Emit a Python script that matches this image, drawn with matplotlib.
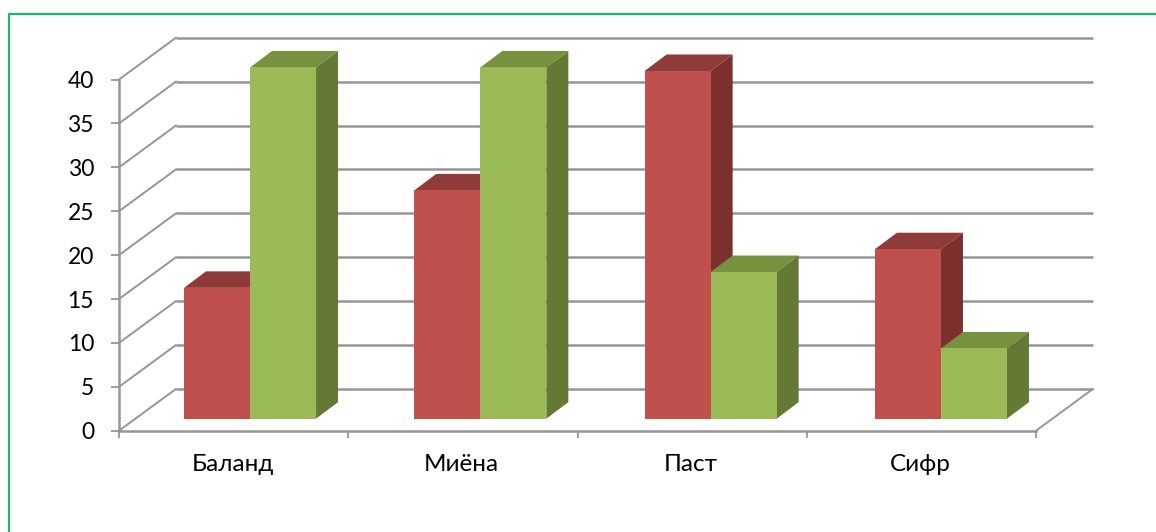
import matplotlib
matplotlib.use('Agg')
import matplotlib.pyplot as plt
from matplotlib.lines import Line2D

categories = ['Баланд', 'Миёна', 'Паст', 'Сифр']
red_values = [14.9, 26, 39.6, 19.3]
green_values = [40, 40, 16.7, 8]
y_ticks = [0, 5, 10, 15, 20, 25, 30, 35, 40]

W, H = 1156, 532
GRAY = '#969696'

# colours: front, top, side
RED = ('#C0504D', '#8F3B39', '#7C302E')
GREEN = ('#9BBB59', '#76923F', '#657936')

# fake 3d depth, in data units
WALL_DX, WALL_DY = 0.248, 4.75
BAR_DX, BAR_DY = 0.096, 1.88
BAR_W = 0.288
BAR_START = 0.2835
BAR_STEP = 1.0046
BAR_BASE = 1.37

plt.rcParams['font.family'] = ['Lato', 'DejaVu Sans']

fig = plt.figure(figsize=(W / 100, H / 100), dpi=100)
ax = fig.add_axes([119 / W, 1 - 430.7 / H, 917 / W, 351.2 / H])
ax.set_xlim(0, len(categories))
ax.set_ylim(0, 40)
ax.patch.set_visible(False)


def draw_wall():
    n = len(categories)
    for v in y_ticks:
        ax.plot([0, WALL_DX], [v, v + WALL_DY], color=GRAY, lw=1.4, clip_on=False, zorder=1)
        ax.plot([WALL_DX, n + WALL_DX], [v + WALL_DY, v + WALL_DY], color=GRAY, lw=1.8,
                clip_on=False, zorder=1, solid_capstyle='butt')
    ax.plot([n, n + WALL_DX], [0, WALL_DY], color=GRAY, lw=1.4, clip_on=False, zorder=1)


def draw_bar(x, value, colors, z):
    front, top_c, side_c = colors
    y1 = BAR_BASE + value
    ax.bar(x, value, BAR_W, bottom=BAR_BASE, align='edge', color=front, zorder=z + 0.2, clip_on=False)
    ax.fill([x, x + BAR_DX, x + BAR_W + BAR_DX, x + BAR_W],
            [y1, y1 + BAR_DY, y1 + BAR_DY, y1], color=top_c, lw=0, zorder=z, clip_on=False)
    ax.fill([x + BAR_W, x + BAR_W + BAR_DX, x + BAR_W + BAR_DX, x + BAR_W],
            [BAR_BASE, BAR_BASE + BAR_DY, y1 + BAR_DY, y1], color=side_c, lw=0, zorder=z, clip_on=False)


draw_wall()
for i in range(len(categories)):
    x0 = i * BAR_STEP + BAR_START
    draw_bar(x0, red_values[i], RED, 2 + i * 2)
    draw_bar(x0 + BAR_W, green_values[i], GREEN, 3 + i * 2)

for name in ['top', 'right']:
    ax.spines[name].set_visible(False)
for name in ['left', 'bottom']:
    ax.spines[name].set_color(GRAY)
    ax.spines[name].set_linewidth(1.8)
    ax.spines[name].set_zorder(1)

ax.set_yticks(y_ticks)
ax.tick_params(axis='y', length=6, width=1.3, color=GRAY, labelsize=16.5, pad=12)
ax.set_xticks(range(len(categories) + 1))
ax.set_xticklabels([])
ax.tick_params(axis='x', which='major', length=5, width=1.3, color=GRAY)
ax.set_xticks([i + 0.495 for i in range(len(categories))], minor=True)
ax.set_xticklabels(categories, minor=True)
ax.tick_params(axis='x', which='minor', length=0, labelsize=17.5, pad=17)

# green frame, open to the right and bottom
fig.add_artist(Line2D([8.5 / W, 8.5 / W, 1], [0, 1 - 14 / H, 1 - 14 / H], color='#1DB868', lw=1.6))

fig.savefig('out.png', dpi=100)
